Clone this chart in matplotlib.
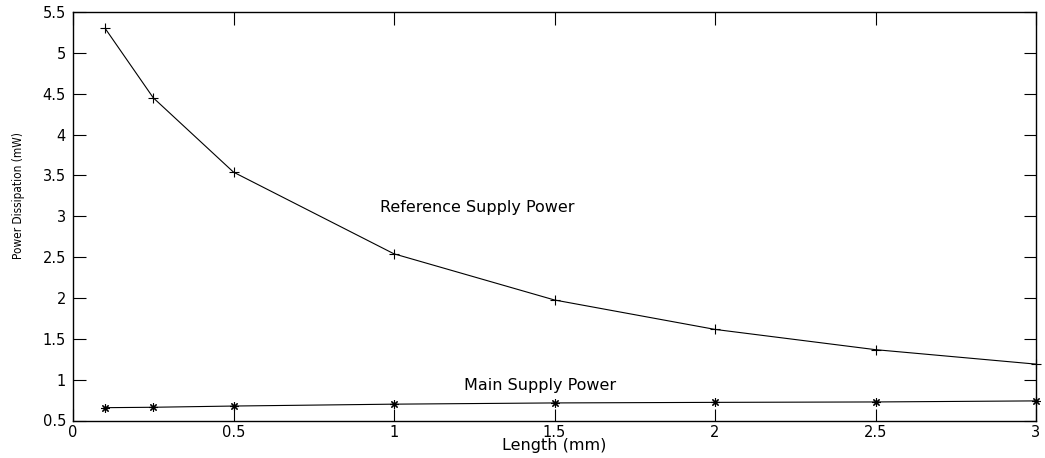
import matplotlib.pyplot as plt

# --- data ---
length_mm = [0.1, 0.25, 0.5, 1.0, 1.5, 2.0, 2.5, 3.0]
ref_power = [5.30, 4.45, 3.54, 2.54, 1.975, 1.615, 1.367, 1.19]
main_power = [0.657, 0.662, 0.677, 0.70, 0.715, 0.722, 0.727, 0.74]

x_ticks = [0, 0.5, 1, 1.5, 2, 2.5, 3]
y_ticks = [0.5, 1, 1.5, 2, 2.5, 3, 3.5, 4, 4.5, 5, 5.5]

plt.rcParams["font.family"] = ["DejaVu Sans"]

fig = plt.figure(figsize=(10.45, 4.58), dpi=100)
ax = fig.add_axes([73 / 1045, 1 - 420.5 / 458, (1036 - 73) / 1045, (420.5 - 12) / 458])

ax.plot(length_mm, ref_power, color="black", linewidth=0.8, marker="+",
        markersize=7, markeredgewidth=0.8, clip_on=False)
ax.plot(length_mm, main_power, color="black", linewidth=0.8, marker=(8, 2, 0),
        markersize=6, markeredgewidth=0.8, clip_on=False)

ax.text(1.26, 3.11, "Reference Supply Power", fontsize=11.5, va="center", ha="center")
ax.text(1.455, 0.925, "Main Supply Power", fontsize=11.5, va="center", ha="center")

ax.set_xlim(0, 3)
ax.set_ylim(0.5, 5.5)
ax.set_xticks(x_ticks)
ax.set_yticks(y_ticks)
ax.set_xticklabels([f"{v:g}" for v in x_ticks])
ax.set_yticklabels([f"{v:g}" for v in y_ticks])
ax.tick_params(direction="in", length=9, width=0.8, labelsize=10.5,
               top=True, right=True, pad=5)
ax.tick_params(axis="x", pad=3)

ax.set_xlabel("Length (mm)", fontsize=11.5, labelpad=-1)
ax.set_ylabel("Power Dissipation (mW)", fontsize=8.5, stretch="condensed")
ax.yaxis.set_label_coords(-0.05, 0.55)

for s in ax.spines.values():
    s.set_linewidth(1.0)

fig.savefig("out.png", dpi=100, facecolor="white")
